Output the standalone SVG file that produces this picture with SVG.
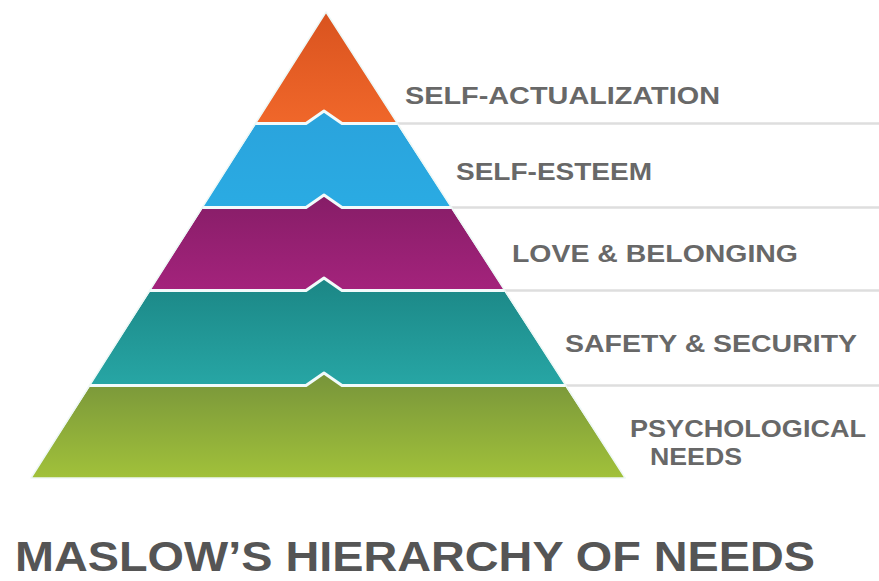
<svg xmlns="http://www.w3.org/2000/svg" width="879" height="581" viewBox="0 0 879 581">
  <style>
    .lbl { font-family: "Liberation Sans", Arial, sans-serif; font-weight: bold; font-size: 24px; fill: #686868; }
    .title { font-family: "Liberation Sans", Arial, sans-serif; font-weight: bold; font-size: 42px; fill: #555555; }
    .sep { stroke: #dedede; stroke-width: 2.5; fill: none; }
    .gap { stroke: #f2fbfb; stroke-width: 3; fill: none; stroke-linejoin: round; }
    .edge { stroke: #eef8f6; stroke-width: 1.5; fill: none; stroke-linejoin: round; }
  </style>
  <defs>
    <linearGradient id="gOrange" x1="0" y1="0" x2="0" y2="1">
      <stop offset="0" stop-color="#d9531f"/>
      <stop offset="1" stop-color="#f0672a"/>
    </linearGradient>
    <linearGradient id="gBlue" x1="0" y1="0" x2="0" y2="1">
      <stop offset="0" stop-color="#2aa3dc"/>
      <stop offset="1" stop-color="#2aabe3"/>
    </linearGradient>
    <linearGradient id="gPurple" x1="0" y1="0" x2="0" y2="1">
      <stop offset="0" stop-color="#861d67"/>
      <stop offset="1" stop-color="#a4237c"/>
    </linearGradient>
    <linearGradient id="gTeal" x1="0" y1="0" x2="0" y2="1">
      <stop offset="0" stop-color="#1b8685"/>
      <stop offset="1" stop-color="#27a6a5"/>
    </linearGradient>
    <linearGradient id="gGreen" x1="0" y1="0" x2="0" y2="1">
      <stop offset="0" stop-color="#77943a"/>
      <stop offset="1" stop-color="#a1c13a"/>
    </linearGradient>
  </defs>
  <rect width="879" height="581" fill="#ffffff"/>

  <g id="separators">
    <line class="sep" x1="397" y1="123.5" x2="879" y2="123.5"/>
    <line class="sep" x1="451" y1="207.5" x2="879" y2="207.5"/>
    <line class="sep" x1="504" y1="290.5" x2="879" y2="290.5"/>
    <line class="sep" x1="565" y1="385.5" x2="879" y2="385.5"/>
  </g>

  <g id="self-actualization">
    <polygon points="326,12 397.6,124 255.4,124" fill="url(#gOrange)"/>
    <text class="lbl" x="405" y="104" textLength="315" lengthAdjust="spacingAndGlyphs">SELF-ACTUALIZATION</text>
  </g>
  <g id="self-esteem">
    <polygon points="256.4,123.5 306,123.5 324,111 342,123.5 396.6,123.5 451.5,208 202.2,208" fill="url(#gBlue)"/>
    <text class="lbl" x="456" y="180" textLength="196" lengthAdjust="spacingAndGlyphs">SELF-ESTEEM</text>
  </g>
  <g id="love-belonging">
    <polygon points="203.2,207.5 306,207.5 324,195 342,207.5 450.5,207.5 504.8,291 149.7,291" fill="url(#gPurple)"/>
    <text class="lbl" x="512" y="262" textLength="286" lengthAdjust="spacingAndGlyphs">LOVE &amp; BELONGING</text>
  </g>
  <g id="safety-security">
    <polygon points="150.7,290.5 306,290.5 324,278 342,290.5 503.8,290.5 565.8,386 89.5,386" fill="url(#gTeal)"/>
    <text class="lbl" x="565" y="352" textLength="292" lengthAdjust="spacingAndGlyphs">SAFETY &amp; SECURITY</text>
  </g>
  <g id="physiological-needs">
    <polygon points="90.5,385.5 306,385.5 324,373 342,385.5 564.8,385.5 625.2,478 31,478" fill="url(#gGreen)"/>
    <text class="lbl" x="630" y="437" textLength="236" lengthAdjust="spacingAndGlyphs">PSYCHOLOGICAL</text>
    <text class="lbl" x="650" y="465" textLength="92" lengthAdjust="spacingAndGlyphs">NEEDS</text>
  </g>

  <g id="connectors">
    <polyline class="gap" points="255.4,123.5 306,123.5 324,111 342,123.5 397.6,123.5"/>
    <polyline class="gap" points="202.2,207.5 306,207.5 324,195 342,207.5 451.5,207.5"/>
    <polyline class="gap" points="149.7,290.5 306,290.5 324,278 342,290.5 504.8,290.5"/>
    <polyline class="gap" points="89.5,385.5 306,385.5 324,373 342,385.5 565.8,385.5"/>
    <polygon class="edge" points="326,12 625.2,478 31,478"/>
  </g>

  <g id="title">
    <text class="title" x="15" y="571" textLength="800" lengthAdjust="spacingAndGlyphs">MASLOW’S HIERARCHY OF NEEDS</text>
  </g>
</svg>
